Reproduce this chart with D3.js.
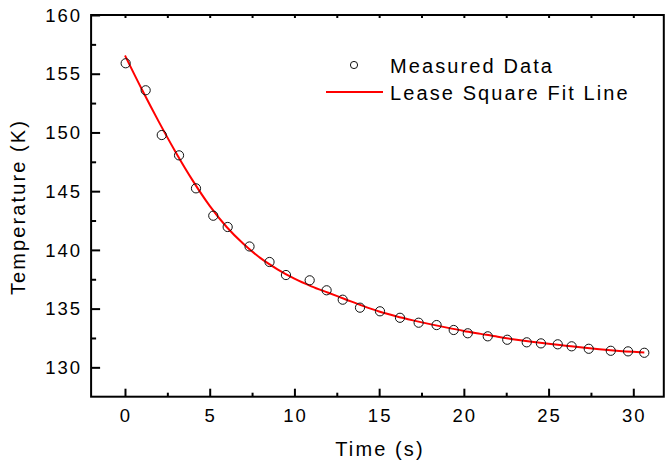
<!DOCTYPE html>
<html><head><meta charset="utf-8">
<script src="https://cdn.jsdelivr.net/npm/d3@7/dist/d3.min.js"></script>
<style>
body{margin:0;background:#fff;}
svg{display:block;font-family:"Liberation Sans",Arial,sans-serif;}
</style></head>
<body><svg id="c" width="667" height="464"></svg>
<script>
// Measured data
const measTime = [0.04,1.22,2.17,3.19,4.19,5.21,6.06,7.35,8.53,9.50,10.90,11.90,12.85,13.87,15.05,16.23,17.33,18.39,19.40,20.23,21.41,22.56,23.71,24.55,25.54,26.36,27.37,28.67,29.69,30.65];
const measTemp = [155.89,153.59,149.78,148.05,145.24,142.91,141.95,140.29,138.97,137.86,137.41,136.56,135.76,135.08,134.77,134.22,133.80,133.60,133.18,132.90,132.64,132.35,132.13,132.04,131.96,131.79,131.58,131.41,131.36,131.24];
// Least-square fit line
const fitTime = [0,1,2,3,4,5,6,7,8,9,10,11,12,13,14,15,16,17,18,19,20,21,22,23,24,25,26,27,28,29,30,30.65];
const fitTemp = [156.55,153.65,150.9,148.3,145.9,143.75,141.95,140.5,139.3,138.35,137.55,136.9,136.35,135.8,135.25,134.75,134.35,134.0,133.68,133.38,133.1,132.85,132.6,132.38,132.18,132.0,131.84,131.68,131.54,131.42,131.32,131.27];
// Ticks
const xMajor = [0,5,10,15,20,25,30];
const xMinor = [2.5,7.5,12.5,17.5,22.5,27.5];
const yMajor = [130,135,140,145,150,155,160];
const yMinor = [132.5,137.5,142.5,147.5,152.5,157.5];
const xTitle = "Time (s)";
const yTitle = "Temperature (K)";
const legendLabels = ["Measured Data","Lease Square Fit Line"];

const svg = d3.select("#c");
const L=91.1, R=663.8, T=15, B=396.7;
const x = d3.scaleLinear().domain([-2,31.8]).range([L,R]);
const y = d3.scaleLinear().domain([127.5,160]).range([B,T]);

// fit line
svg.append("path")
  .datum(fitTime.map((t,i)=>[t,fitTemp[i]]))
  .attr("fill","none").attr("stroke","#ff0000").attr("stroke-width",2)
  .attr("d", d3.line().x(d=>x(d[0])).y(d=>y(d[1])).curve(d3.curveMonotoneX));

// points
svg.append("g").selectAll("circle")
  .data(measTime.map((t,i)=>[t,measTemp[i]]))
  .join("circle")
  .attr("cx",d=>x(d[0])).attr("cy",d=>y(d[1])).attr("r",4.6)
  .attr("fill","none").attr("stroke","#111").attr("stroke-width",1);

// frame
const ax = svg.append("g").attr("stroke","#000").attr("stroke-width",2);
ax.append("rect").attr("x",L).attr("y",T).attr("width",R-L).attr("height",B-T).attr("fill","none");

// bottom ticks
const xb = d3.axisBottom(x).tickValues(xMajor).tickSize(-8).tickFormat("");
svg.append("g").attr("transform",`translate(0,${B})`).call(xb).call(g=>{g.select(".domain").remove();g.selectAll("line").attr("stroke-width",2);});
svg.append("g").attr("transform",`translate(0,${B})`).call(d3.axisBottom(x).tickValues(xMinor).tickSize(-4).tickFormat("")).call(g=>{g.select(".domain").remove();g.selectAll("line").attr("stroke-width",2);});
// top ticks
svg.append("g").attr("transform",`translate(0,${T})`).call(d3.axisTop(x).tickValues(xMajor.concat(xMinor)).tickSize(-3).tickFormat("")).call(g=>{g.select(".domain").remove();g.selectAll("line").attr("stroke-width",2);});
// left ticks
svg.append("g").attr("transform",`translate(${L},0)`).call(d3.axisLeft(y).tickValues(yMajor).tickSize(-9).tickFormat("")).call(g=>{g.select(".domain").remove();g.selectAll("line").attr("stroke-width",2);});
svg.append("g").attr("transform",`translate(${L},0)`).call(d3.axisLeft(y).tickValues(yMinor).tickSize(-5).tickFormat("")).call(g=>{g.select(".domain").remove();g.selectAll("line").attr("stroke-width",2);});

// tick labels
svg.append("g").selectAll("text").data(xMajor).join("text")
  .attr("x",d=>x(d)+1).attr("y",421.5).attr("text-anchor","middle")
  .style("font-size","18.5px").style("letter-spacing","2px").attr("fill","#000").text(d=>d);
svg.append("g").selectAll("text").data(yMajor).join("text")
  .attr("x",82).attr("y",d=>y(d)+6.7).attr("text-anchor","end")
  .style("font-size","18.5px").style("letter-spacing","2px").attr("fill","#000").text(d=>d);

// titles
svg.append("text").attr("x",380).attr("y",456).attr("text-anchor","middle")
  .style("font-size","20px").style("letter-spacing","2.1px").text(xTitle);
svg.append("text").attr("transform","translate(25,207) rotate(-90)").attr("text-anchor","middle")
  .style("font-size","20px").style("letter-spacing","2.1px").text(yTitle);

// legend
svg.append("circle").attr("cx",354).attr("cy",65).attr("r",3.6).attr("fill","none").attr("stroke","#111").attr("stroke-width",1);
svg.append("line").attr("x1",326).attr("x2",383).attr("y1",92).attr("y2",92).attr("stroke","#ff0000").attr("stroke-width",2);
svg.append("text").attr("x",390).attr("y",73).style("font-size","20px").style("letter-spacing","2.1px").text(legendLabels[0]);
svg.append("text").attr("x",390).attr("y",100).style("font-size","20px").style("letter-spacing","2.1px").text(legendLabels[1]);
</script></body></html>
